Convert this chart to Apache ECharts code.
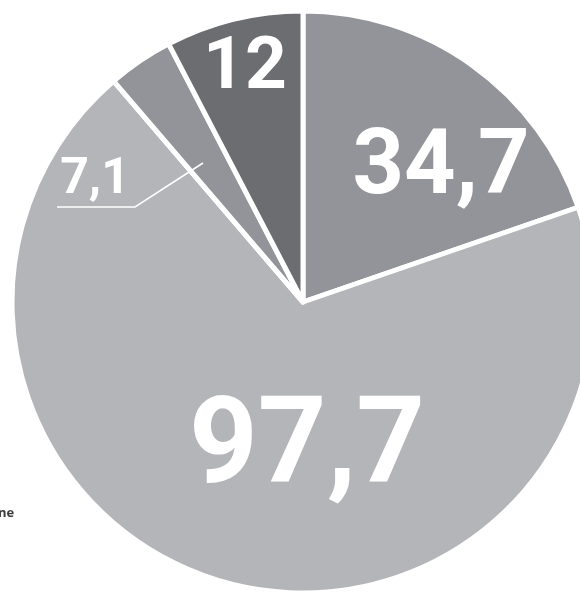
<!DOCTYPE html>
<html>
<head>
<meta charset="utf-8">
<script src="https://cdn.jsdelivr.net/npm/echarts@6/dist/echarts.min.js"></script>
<style>
html,body{margin:0;padding:0;background:#fff;}
#chart{width:580px;height:592px;}
</style>
</head>
<body>
<div id="chart"></div>
<script>
// Slice order clockwise from 12 o'clock
const categories = ['A', 'B', 'C', 'D'];
// Printed values on the slices
const valueLabels = ['34,7', '97,7', '7,1', '12'];
// Slice sizes (share of the circle, degrees)
const sliceShares = [71, 248.4, 13.1, 27.5];
const sliceColors = ['#939499', '#b4b5b9', '#939499', '#6c6d71'];

const FONT = 'Roboto, "Liberation Sans", sans-serif';

const labelSpots = [
  {x: 441, y: 170, size: 90},
  {x: 307, y: 452, size: 120},
  {x: 95,  y: 180, size: 50},
  {x: 245, y: 70,  size: 73}
];

const chart = echarts.init(document.getElementById('chart'), null, {renderer: 'canvas'});

chart.setOption({
  backgroundColor: '#fff',
  animation: false,
  series: [{
    type: 'pie',
    center: [303, 302],
    radius: 291,
    startAngle: 90,
    clockwise: true,
    silent: true,
    itemStyle: {borderColor: '#fff', borderWidth: 5},
    label: {
      show: true,
      position: 'inside',
      color: '#fff',
      fontFamily: FONT,
      fontWeight: 'bold',
      formatter: p => valueLabels[p.dataIndex]
    },
    labelLine: {show: false},
    labelLayout: function (p) {
      const s = labelSpots[p.dataIndex];
      return {x: s.x, y: s.y, align: 'center', verticalAlign: 'middle', fontSize: s.size};
    },
    data: categories.map((c, i) => ({
      name: c,
      value: sliceShares[i],
      itemStyle: {color: sliceColors[i]}
    }))
  }],
  graphic: [
    {
      type: 'polyline',
      silent: true,
      z: 100,
      shape: {points: [[57, 207], [135, 207], [203, 163]]},
      style: {stroke: '#fff', lineWidth: 1.5, fill: null}
    },
    {
      type: 'text',
      z: 100,
      left: -2, top: 507,
      style: {text: 'ne', font: 'bold 13px "Open Sans", sans-serif', fill: '#3d3d3d'}
    }
  ]
});
</script>
</body>
</html>
